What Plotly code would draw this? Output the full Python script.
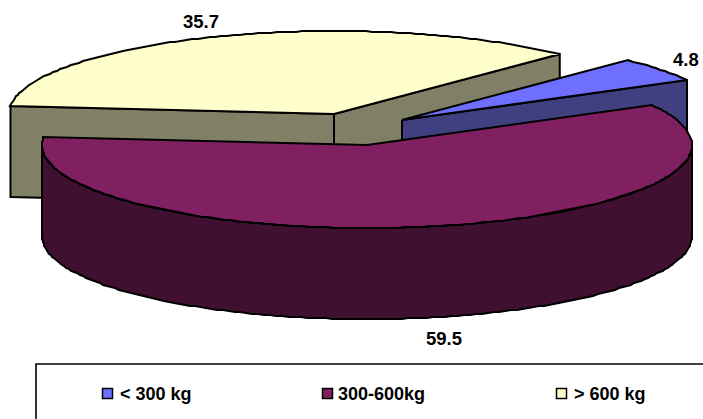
import numpy as np
import plotly.graph_objects as go

categories = ["< 300 kg", "300-600kg", "> 600 kg"]
values = [4.8, 59.5, 35.7]
top_colors = ["#6F6FFF", "#802060", "#FFFFCC"]
wall_colors = ["#404080", "#401030", "#808066"]

# pie geometry, in page pixels
A, B, DEPTH = 325.0, 83.0, 91.0
START = 46.0
centers = [(402, 120), (367, 145), (334, 114)]
label_pos = [(686, 59), (443.5, 338), (201, 21)]
legend_swatch_x = [107.5, 327.5, 561.5]
legend_text_x = [118, 336, 572]
LEG_Y = 393.5

angles = {}
t = START
for c, v in zip(categories, values):
    angles[c] = (t, t - v / sum(values) * 360)
    t = angles[c][1]


def pt(center, deg):
    r = np.radians(deg)
    return center[0] + A * np.cos(r), center[1] - B * np.sin(r)


def arc(center, a0, a1):
    # the reference outline is a coarse, pixel-snapped polyline
    n = max(int(abs(a1 - a0) * 0.9), 2)
    d = np.linspace(a0, a1, n)
    return (list(np.round(center[0] + A * np.cos(np.radians(d)))),
            list(np.round(center[1] - B * np.sin(np.radians(d)))))


fig = go.Figure()


def poly(xs, ys, fill):
    fig.add_trace(go.Scatter(x=xs, y=ys, mode="lines", fill="toself", fillcolor=fill,
                             line=dict(color="black", width=2), hoverinfo="skip",
                             showlegend=False))


def radial_wall(center, deg, fill):
    x, y = pt(center, deg)
    poly([center[0], x, x, center[0], center[0]],
         [center[1], y, y + DEPTH, center[1] + DEPTH, center[1]], fill)


def top(center, a0, a1, fill):
    xs, ys = arc(center, a0, a1)
    poly([center[0]] + xs + [center[0]], [center[1]] + ys + [center[1]], fill)


# yellow slice (index 2)
c2 = categories[2]
radial_wall(centers[2], angles[c2][0], wall_colors[2])
radial_wall(centers[2], angles[c2][1], wall_colors[2])
top(centers[2], *angles[c2], top_colors[2])

# blue slice (index 0)
c0 = categories[0]
radial_wall(centers[0], angles[c0][1], wall_colors[0])
top(centers[0], *angles[c0], top_colors[0])

# purple slice (index 1)
c1 = categories[1]
xs, ys = arc(centers[1], 0, -180)
poly(xs + xs[::-1] + [xs[0]], ys + [y + DEPTH for y in ys[::-1]] + [ys[0]], wall_colors[1])
top(centers[1], *angles[c1], top_colors[1])

# legend swatches
fig.add_trace(go.Scatter(x=legend_swatch_x, y=[LEG_Y] * 3, mode="markers", hoverinfo="skip",
                         showlegend=False,
                         marker=dict(symbol="square", size=10, color=top_colors,
                                     line=dict(color="black", width=1.5))))

annotations = []
for v, (x, y) in zip(values, label_pos):
    annotations.append(dict(x=x, y=y, text=f"<b>{v}</b>", showarrow=False,
                            font=dict(family="Liberation Sans", size=18.5, color="black")))
for c, x in zip(categories, legend_text_x):
    annotations.append(dict(x=x, y=LEG_Y, text=f"<b>{c}</b>", showarrow=False, xanchor="left",
                            font=dict(family="Liberation Sans", size=18, color="black")))

fig.update_layout(
    width=703, height=419, margin=dict(l=0, r=0, t=0, b=0),
    paper_bgcolor="white", plot_bgcolor="white", annotations=annotations,
    xaxis=dict(range=[0, 703], visible=False),
    yaxis=dict(range=[419, 0], visible=False),
    shapes=[dict(type="rect", x0=36, y0=364, x1=720, y1=440, line=dict(color="black", width=1.6))],
)
fig.write_html("out.html", config=dict(displayModeBar=False),
               post_script="document.body.style.margin='0';")
